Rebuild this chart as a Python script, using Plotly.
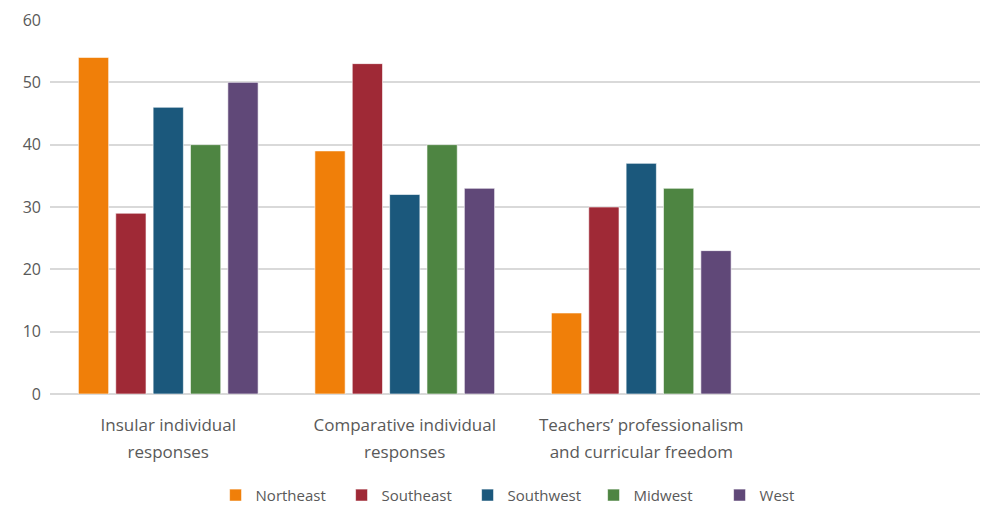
import plotly.graph_objects as go

categories = ["Insular individual responses",
              "Comparative individual responses",
              "Teachers\u2019 professionalism and curricular freedom"]
tick_line1 = ["Insular individual", "Comparative individual", "Teachers\u2019 professionalism"]
tick_line2 = ["responses", "responses", "and curricular freedom"]
northeast = [54, 39, 13]
southeast = [29, 53, 30]
southwest = [46, 32, 37]
midwest = [40, 40, 33]
west = [50, 33, 23]

series = [
    ("Northeast", northeast, "#F07F09"),
    ("Southeast", southeast, "#9F2936"),
    ("Southwest", southwest, "#1B587C"),
    ("Midwest", midwest, "#4E8542"),
    ("West", west, "#604878"),
]

fig = go.Figure()
for name, vals, color in series:
    fig.add_trace(go.Bar(
        name=name, x=categories, y=vals,
        marker=dict(color=color, line=dict(color="rgba(255,255,255,0.6)", width=1)),
    ))
# empty helper trace so the second-line tick axis is drawn
fig.add_trace(go.Scatter(x=[], y=[], xaxis="x2", yaxis="y",
                         showlegend=False, hoverinfo="skip"))

tick_font = dict(family="'Open Sans', sans-serif", size=17, color="#595959")
idx = list(range(len(categories)))
fig.update_layout(
    width=988, height=506,
    barmode="group", bargap=0.21, bargroupgap=0.19,
    plot_bgcolor="white", paper_bgcolor="white",
    margin=dict(l=42, r=0, t=12, b=120),
    font=dict(family="'Open Sans', sans-serif", color="#595959", size=15),
    xaxis=dict(type="category", range=[-0.5, 3.5], showgrid=False,
               showline=False, ticks="", tickmode="array",
               tickvals=categories, ticktext=tick_line1,
               tickfont=tick_font, ticklabelstandoff=19),
    xaxis2=dict(overlaying="x", anchor="y", side="bottom", range=[-0.5, 3.5],
                showgrid=False, showline=False, zeroline=False, ticks="",
                tickmode="array", tickvals=idx, ticktext=tick_line2,
                tickfont=tick_font, ticklabelstandoff=46),
    yaxis=dict(range=[0, 60], dtick=10, showgrid=True, gridcolor="#D9D9D9",
               gridwidth=1.5, zeroline=True, zerolinecolor="#D9D9D9",
               zerolinewidth=1.5, ticks="", tickfont=dict(size=16),
               ticklabelstandoff=8),
    legend=dict(orientation="h", x=0.508, xanchor="center", y=-0.271,
                yanchor="middle", font=dict(size=15), itemwidth=30,
                entrywidth=81, entrywidthmode="pixels",
                traceorder="normal"),
    showlegend=True,
)

fig.write_html("out.html")
